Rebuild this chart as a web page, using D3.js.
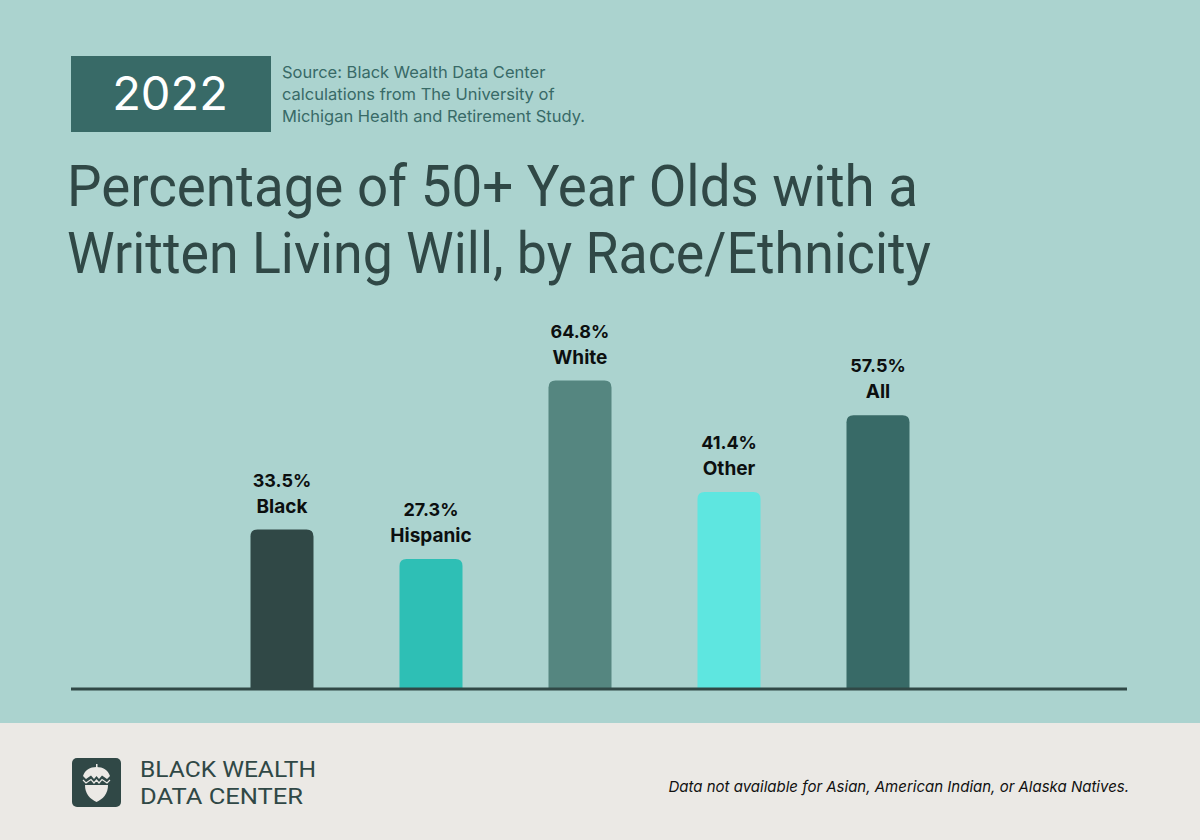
<!DOCTYPE html>
<html><head><meta charset="utf-8">
<script src="https://cdn.jsdelivr.net/npm/d3@7"></script>
<style>html,body{margin:0;padding:0;background:#abd3cf}svg{display:block}</style>
</head><body><svg id="c" width="1200" height="840"></svg>
<script>
const categories = ["Black","Hispanic","White","Other","All"];
const values = [33.5,27.3,64.8,41.4,57.5];
const valueLabels = ["33.5%","27.3%","64.8%","41.4%","57.5%"];
const barColors = ["#304846","#2ebfb5","#558680","#5ee6e0","#386a67"];
const titleLines = ["Percentage of 50+ Year Olds with a","Written Living Will, by Race/Ethnicity"];
const sourceLines = ["Source: Black Wealth Data Center","calculations from The University of","Michigan Health and Retirement Study."];
const logoLines = ["BLACK WEALTH","DATA CENTER"];

const svg = d3.select("#c");
svg.append("rect").attr("width",1200).attr("height",840).attr("fill","#abd3cf");
svg.append("rect").attr("y",723).attr("width",1200).attr("height",117).attr("fill","#ebe9e5");

// header
svg.append("rect").attr("x",71).attr("y",56).attr("width",200).attr("height",76).attr("fill","#386a67");
svg.append("text").attr("x",170).attr("y",110).attr("text-anchor","middle")
  .attr("font-family","Inter").attr("font-size",47).attr("font-weight",400).attr("fill","#fff").text("2022");
svg.selectAll(".src").data(sourceLines).join("text").attr("class","src")
  .attr("x",282).attr("y",(d,i)=>78+i*22).attr("font-family","Inter").attr("font-size",16.5)
  .attr("fill","#386a67").text(d=>d);
const titleWidths=[851,864];
svg.selectAll(".title").data(titleLines).join("text").attr("class","title")
  .attr("x",67).attr("y",(d,i)=>206+i*67)
  .attr("font-family","Roboto").attr("font-size",58).attr("font-weight",400).attr("fill","#304846")
  .attr("textLength",(d,i)=>titleWidths[i]).attr("lengthAdjust","spacingAndGlyphs").text(d=>d);

// chart
const x = d3.scaleBand().domain(categories).range([207.5,952.5]).paddingInner(86/149).paddingOuter(43/149);
const y = d3.scaleLinear().domain([0,64.8]).range([689,380.5]);
const g = svg.append("g");
function barPath(cx,w,top,base,r){
  return `M${cx},${base}V${top+r}Q${cx},${top} ${cx+r},${top}H${cx+w-r}Q${cx+w},${top} ${cx+w},${top+r}V${base}Z`;
}
g.selectAll("path.bar").data(categories).join("path").attr("class","bar")
  .attr("d",(d,i)=>barPath(x(d),x.bandwidth(),y(values[i]),y(0),7))
  .attr("fill",(d,i)=>barColors[i]);
const axis = d3.axisBottom(x).tickSize(0).tickFormat("");
const ag = g.append("g").attr("transform",`translate(0,${y(0)})`).call(axis);
ag.select(".domain").remove();
g.append("line").attr("x1",71).attr("x2",1127).attr("y1",y(0)).attr("y2",y(0)).attr("stroke","#304846").attr("stroke-width",3);
categories.forEach((c,i)=>{
  const cx=x(c)+x.bandwidth()/2, top=y(values[i]);
  [[valueLabels[i],-43,18],[c,-17,19]].forEach(([t,dy,fs])=>{
    g.append("text").attr("x",cx).attr("y",top+dy).attr("text-anchor","middle")
      .attr("font-family","Inter").attr("font-size",fs).attr("font-weight",700).attr("fill","#0c0f0f").text(t);
  });
});

// logo
const lg = svg.append("g").attr("transform","translate(72,758)");
lg.append("rect").attr("width",49).attr("height",49).attr("rx",5).attr("fill","#304846");
lg.append("path").attr("d","M13,27H36C36,36 31,41 24.5,44C18,41 13,36 13,27Z").attr("fill","#ebe9e5");
lg.append("path").attr("d","M11,18C13,12 18,9 24.5,9C31,9 36,12 38,18L35,21L30,17.5L27,21L24.5,18L22,21L19,17.5L14,21Z").attr("fill","#ebe9e5");
lg.append("path").attr("d","M11,22L14,25L19,21.5L22,25L24.5,22L27,25L30,21.5L35,25L38,22").attr("fill","none").attr("stroke","#ebe9e5").attr("stroke-width",1.2);
lg.append("rect").attr("x",24).attr("y",6).attr("width",1.5).attr("height",4).attr("fill","#ebe9e5");
svg.selectAll(".logo").data(logoLines).join("text").attr("class","logo")
  .attr("x",140).attr("y",(d,i)=>777+i*26.5).attr("font-family","Roboto").attr("font-size",22).attr("font-weight",400)
  .attr("fill","#304846").attr("textLength",(d,i)=>[176,163][i]).attr("lengthAdjust","spacingAndGlyphs").text(d=>d);
svg.append("text").attr("x",1129).attr("y",792).attr("text-anchor","end")
  .attr("font-family","Inter").attr("font-size",15).attr("font-style","italic").attr("fill","#111")
  .text("Data not available for Asian, American Indian, or Alaska Natives.");
</script></body></html>
